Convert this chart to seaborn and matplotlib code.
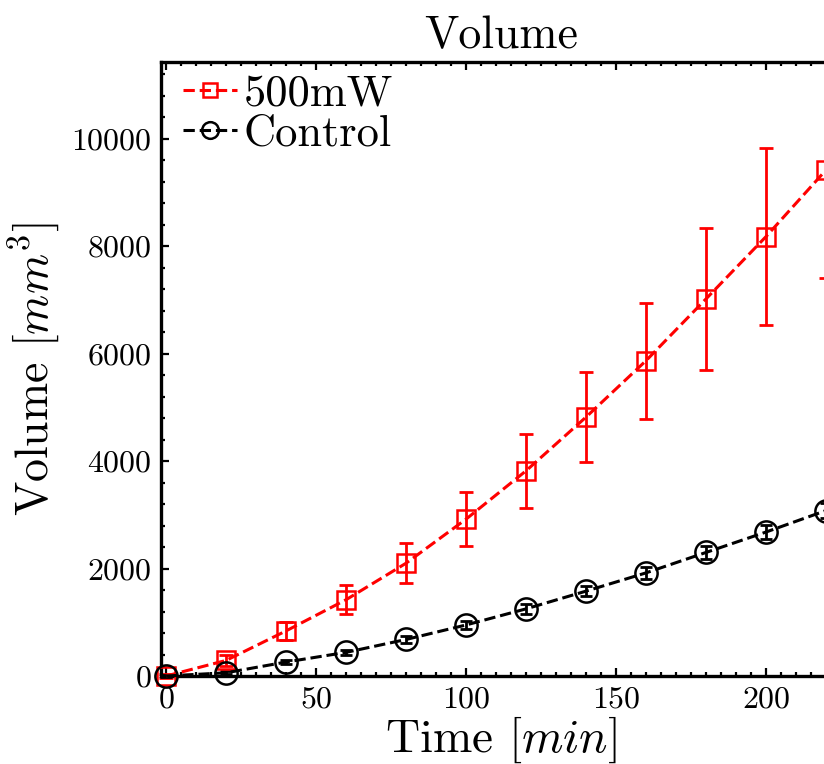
import numpy as np
import matplotlib
matplotlib.use("Agg")
import matplotlib.pyplot as plt
from matplotlib.ticker import MultipleLocator
import seaborn as sns

# values
time_min = [0, 20, 40, 60, 80, 100, 120, 140, 160, 180, 200, 220]
vol_500mw = [0, 290, 840, 1420, 2100, 2920, 3820, 4820, 5870, 7020, 8180, 9420]
err_500mw = [40, 110, 170, 270, 375, 500, 690, 830, 1080, 1320, 1650, 2010]
vol_control = [0, 60, 260, 440, 680, 950, 1250, 1580, 1920, 2300, 2680, 3080]
err_control = [20, 30, 40, 50, 60, 80, 90, 100, 110, 120, 130, 140]

sns.set_theme(style="ticks")
plt.rcParams["font.family"] = "serif"
plt.rcParams["font.serif"] = ["cmr10", "DejaVu Serif"]
plt.rcParams["mathtext.fontset"] = "cm"
plt.rcParams["axes.formatter.use_mathtext"] = True
plt.rcParams["text.color"] = "black"
plt.rcParams["axes.labelcolor"] = "black"

fig = plt.figure(figsize=(8.24, 7.64), dpi=100)
# right spine sits just past the picture's edge, the reference is cropped there
ax = fig.add_axes([161 / 824, 88 / 764, 680 / 824, 614 / 764])

sns.lineplot(x=time_min, y=vol_500mw, ax=ax, color="red", linestyle="--",
             linewidth=2.2, marker="s", markersize=13, markerfacecolor="none",
             markeredgecolor="red", markeredgewidth=1.8, label="500mW",
             clip_on=False, zorder=3)
sns.lineplot(x=time_min, y=vol_control, ax=ax, color="black", linestyle="--",
             linewidth=2.2, marker="o", markersize=16, markerfacecolor="none",
             markeredgecolor="black", markeredgewidth=1.8, label="Control",
             clip_on=False, zorder=3)
ax.errorbar(time_min, vol_500mw, yerr=err_500mw, fmt="none", ecolor="red",
            elinewidth=2, capsize=5, capthick=2, clip_on=False)
ax.errorbar(time_min, vol_control, yerr=err_control, fmt="none", ecolor="black",
            elinewidth=2, capsize=4, capthick=2, clip_on=False)

ax.set_xlim(-1.7, 225)
ax.set_ylim(0, 11430)
ax.xaxis.set_major_locator(MultipleLocator(50))
ax.xaxis.set_minor_locator(MultipleLocator(5))
ax.yaxis.set_major_locator(MultipleLocator(2000))
ax.yaxis.set_minor_locator(MultipleLocator(400))
ax.tick_params(which="both", direction="in", top=True, right=True,
               labelsize=23, colors="black", width=1.6)
ax.tick_params(which="major", length=6, pad=7)
ax.tick_params(which="minor", length=3)
for sp in ax.spines.values():
    sp.set_linewidth(2.4)
    sp.set_color("black")

ax.set_xlabel(r"Time $[min]$", fontsize=34, labelpad=1)
ax.set_ylabel(r"Volume $[mm^3]$", fontsize=33, labelpad=6)
ax.set_title("Volume", fontsize=33, pad=10)

leg = ax.legend(loc="upper left", bbox_to_anchor=(0.02, 0.995), frameon=False,
                fontsize=32, handlelength=1.2, handletextpad=0.15,
                labelspacing=0.0, borderaxespad=0.0, borderpad=0.2,
                markerscale=0.75)

fig.savefig("out.png", dpi=100)
